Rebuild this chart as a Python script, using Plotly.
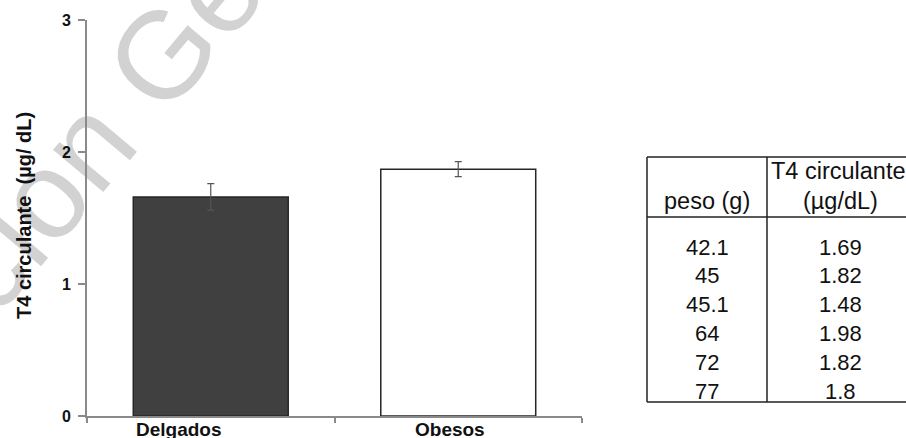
import plotly.graph_objects as go

# Bar chart data: mean circulating T4 per group with standard error
groups = ["Delgados", "Obesos"]
t4_mean = [1.66, 1.87]
t4_err = [0.10, 0.057]
bar_fill = ["#404040", "#ffffff"]

# Individual measurements shown in the side table
peso_g = ["42.1", "45", "45.1", "64", "72", "77"]
t4_vals = ["1.69", "1.82", "1.48", "1.98", "1.82", "1.8"]

y_ticks = [0, 1, 2, 3]

W, H = 906, 438
L, R, T, B = 87, 324, 20, 22
PW, PH = W - L - R, H - T - B


def px_x(px):
    return (px - L) / PW


def px_y(py):
    return (H - B - py) / PH


FONT = "Arial, Liberation Sans, sans-serif"
AXIS_COL = "#8a8a8a"

fig = go.Figure()
fig.add_trace(go.Bar(
    x=list(range(len(groups))),
    y=t4_mean,
    width=0.626,
    marker=dict(color=bar_fill, line=dict(color="#262626", width=1.5)),
    error_y=dict(type="data", array=t4_err, visible=True,
                 color="#555555", thickness=1.2, width=3.5),
    showlegend=False,
))

annotations = []
shapes = []

# Faint rotated watermark, kept underneath axes and text
shapes.append(dict(
    type="rect", xref="paper", yref="paper", layer="below",
    x0=px_x(81), x1=px_x(101), y0=px_y(131), y1=px_y(111),
    line=dict(width=0), fillcolor="rgba(0,0,0,0)",
    label=dict(text="cion Ge", textangle=-50, textposition="middle center",
               font=dict(family=FONT, size=124, color="#d2d2d2")),
))

# Y tick labels, placed on the value axis
for t in y_ticks:
    annotations.append(dict(
        text=str(t), xref="paper", yref="y", x=px_x(73), y=t,
        xanchor="right", yanchor="middle", showarrow=False,
        font=dict(family=FONT, size=16, color="#111111", weight="bold"),
    ))

# Category labels under the bars
label_px = [179, 450]
for name, lx in zip(groups, label_px):
    annotations.append(dict(
        text=name, xref="paper", yref="paper",
        x=px_x(lx), y=px_y(429), xanchor="center", yanchor="middle",
        showarrow=False,
        font=dict(family=FONT, size=19, color="#111111", weight="bold"),
    ))

# Y axis title
annotations.append(dict(
    text="T4 circulante  (µg/ dL)", xref="paper", yref="paper",
    x=px_x(24), y=px_y(216), xanchor="center", yanchor="middle",
    showarrow=False, textangle=-90,
    font=dict(family=FONT, size=20, color="#111111", weight="bold"),
))

# Side table: header and rows
HFONT = dict(family=FONT, size=23.5, color="#111111")
TFONT = dict(family=FONT, size=22, color="#111111")
col1_x, col2_x = 707, 840


def cell(text, cx, cy, font):
    annotations.append(dict(text=text, xref="paper", yref="paper",
                            x=px_x(cx), y=px_y(cy), xanchor="center",
                            yanchor="middle", showarrow=False, font=font))


cell("T4 circulante", 838, 171, HFONT)
cell("(µg/dL)", col2_x, 201, HFONT)
cell("peso (g)", col1_x, 201, HFONT)
row0, row_step = 247, 28.8
for i, (p, v) in enumerate(zip(peso_g, t4_vals)):
    ry = row0 + i * row_step
    cell(p, col1_x, ry, TFONT)
    cell(v, col2_x, ry, TFONT)

# Table rules
tline = dict(color="#222222", width=1.5)
t_left, t_div, t_right = 647, 767, 930
t_top, t_head, t_bot = 157, 217, 402
for (x0, y0, x1, y1) in [
    (t_left, t_top, t_right, t_top),
    (t_left, t_head, t_right, t_head),
    (t_left, t_bot, t_right, t_bot),
    (t_left, t_top, t_left, t_bot),
    (t_div, t_top, t_div, t_bot),
]:
    shapes.append(dict(type="line", xref="paper", yref="paper",
                       x0=px_x(x0), y0=px_y(y0), x1=px_x(x1), y1=px_y(y1),
                       line=tline))

fig.update_layout(
    width=W, height=H,
    margin=dict(l=L, r=R, t=T, b=B, pad=0),
    plot_bgcolor="rgba(0,0,0,0)", paper_bgcolor="white",
    annotations=annotations, shapes=shapes,
    font=dict(family=FONT, color="#111111"),
    xaxis=dict(range=[-0.5, 1.5], tickvals=[-0.5, 0.5, 1.5], showticklabels=False,
               showline=True, linecolor=AXIS_COL, linewidth=1.5,
               ticks="outside", ticklen=5, tickcolor=AXIS_COL, tickwidth=1.5,
               showgrid=False, zeroline=False, fixedrange=True),
    yaxis=dict(range=[0, 3], tickvals=y_ticks, showticklabels=False,
               showline=True, linecolor=AXIS_COL, linewidth=1.5,
               ticks="outside", ticklen=7, tickcolor=AXIS_COL, tickwidth=1.5,
               showgrid=False, zeroline=False, fixedrange=True),
)

fig.write_html("out.html")
